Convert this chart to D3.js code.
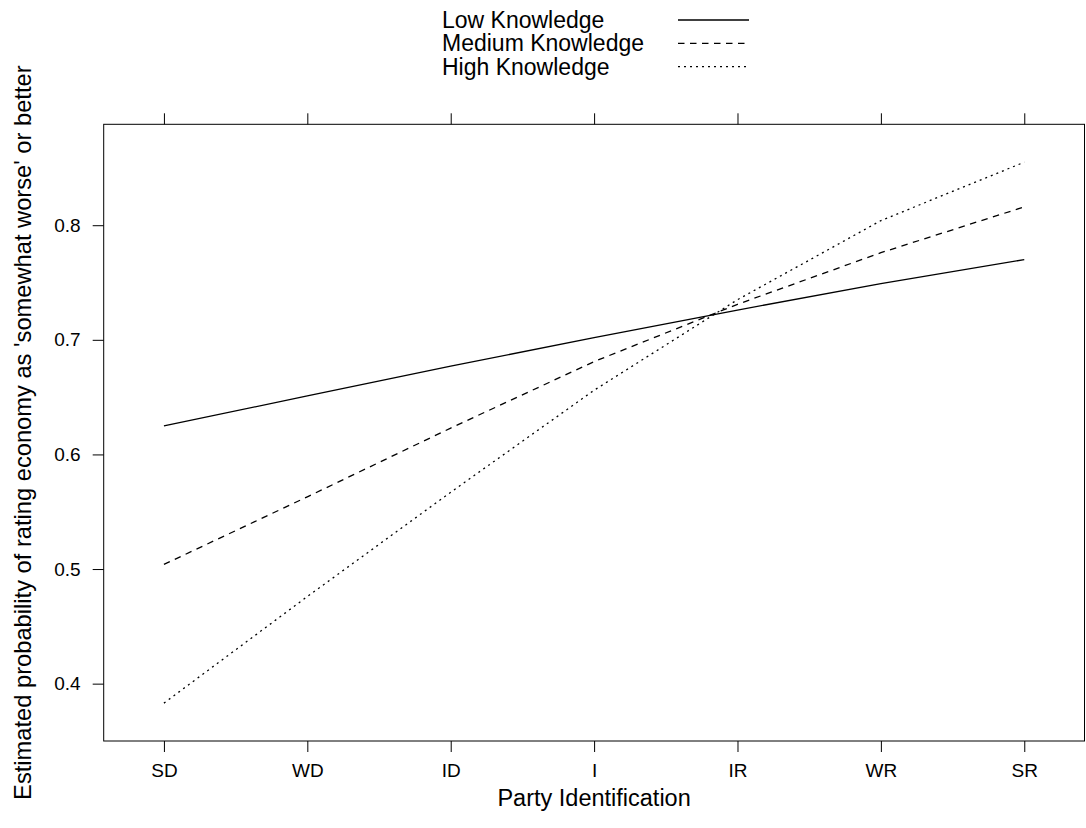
<!DOCTYPE html>
<html>
<head>
<meta charset="utf-8">
<script src="https://cdn.jsdelivr.net/npm/d3@7"></script>
<style>
  body { margin: 0; background: #fff; }
  text { font-family: "Liberation Sans", Arial, Helvetica, sans-serif; fill: #000; }
</style>
</head>
<body>
<div id="chart"></div>
<script>
const partyLabels = ['SD', 'WD', 'ID', 'I', 'IR', 'WR', 'SR'];
const lowKnowledge = [0.625, 0.651, 0.677, 0.702, 0.726, 0.749, 0.770];
const mediumKnowledge = [0.504, 0.563, 0.623, 0.681, 0.731, 0.776, 0.816];
const highKnowledge = [0.383, 0.476, 0.567, 0.656, 0.735, 0.804, 0.855];
const seriesNames = ['Low Knowledge', 'Medium Knowledge', 'High Knowledge'];
const yTicks = [0.4, 0.5, 0.6, 0.7, 0.8];

const width = 1086, height = 828;
const box = { left: 103.7, right: 1084.5, top: 124.3, bottom: 741 };

const svg = d3.select('#chart').append('svg')
    .attr('width', width)
    .attr('height', height);

const series = [
    { name: seriesNames[0], values: lowKnowledge, dash: null },
    { name: seriesNames[1], values: mediumKnowledge, dash: '6.5,5.5' },
    { name: seriesNames[2], values: highKnowledge, dash: '2,4' }
];

// lattice style padding: 7% of the data range on each side
const xIdx = d3.range(1, partyLabels.length + 1);
const xPad = 0.07 * (partyLabels.length - 1);
const x = d3.scaleLinear()
    .domain([1 - xPad, partyLabels.length + xPad])
    .range([box.left, box.right]);

const all = lowKnowledge.concat(mediumKnowledge, highKnowledge);
const [yMin, yMax] = d3.extent(all);
const yPad = 0.07 * (yMax - yMin);
const y = d3.scaleLinear()
    .domain([yMin - yPad, yMax + yPad])
    .range([box.bottom, box.top]);

// axes
const bottomAxis = d3.axisBottom(x).tickValues(xIdx).tickSize(11).tickPadding(12)
    .tickFormat(i => partyLabels[i - 1]);
const gB = svg.append('g').attr('transform', `translate(0,${box.bottom})`).call(bottomAxis);

const topAxis = d3.axisTop(x).tickValues(xIdx).tickSize(11).tickFormat('');
const gT = svg.append('g').attr('transform', `translate(0,${box.top})`).call(topAxis);

const leftAxis = d3.axisLeft(y).tickValues(yTicks).tickSize(11).tickPadding(12)
    .tickFormat(d3.format('.1f'));
const gL = svg.append('g').attr('transform', `translate(${box.left},0)`).call(leftAxis);

[gB, gT, gL].forEach(g => {
    g.select('.domain').remove();
    g.selectAll('line').attr('stroke', '#000').attr('stroke-width', 1);
});
gB.selectAll('text').style('font-size', '19px').attr('dy', '0.71em');
gL.selectAll('text').style('font-size', '19px');

svg.append('rect')
    .attr('x', box.left).attr('y', box.top)
    .attr('width', box.right - box.left)
    .attr('height', box.bottom - box.top)
    .attr('fill', 'none')
    .attr('stroke', '#000')
    .attr('stroke-width', 1);

// lines
const line = d3.line()
    .x((d, i) => x(i + 1))
    .y(d => y(d));

svg.selectAll('.series')
    .data(series)
    .enter().append('path')
    .attr('class', 'series')
    .attr('d', d => line(d.values))
    .attr('fill', 'none')
    .attr('stroke', '#000')
    .attr('stroke-width', 1.3)
    .attr('stroke-dasharray', d => d.dash);

// legend
const key = svg.append('g');
series.forEach((s, i) => {
    const cy = 20 + i * 23.3;
    key.append('text')
        .attr('x', 442).attr('y', cy + 8)
        .style('font-size', '23px')
        .text(s.name);
    key.append('line')
        .attr('x1', 678).attr('x2', 749)
        .attr('y1', cy).attr('y2', cy)
        .attr('stroke', '#000')
        .attr('stroke-width', 1.3)
        .attr('stroke-dasharray', s.dash);
});

// axis titles
svg.append('text')
    .attr('x', (box.left + box.right) / 2)
    .attr('y', 806)
    .attr('text-anchor', 'middle')
    .style('font-size', '23.5px')
    .text('Party Identification');

svg.append('text')
    .attr('transform', `translate(31,${(box.top + box.bottom) / 2}) rotate(-90)`)
    .attr('text-anchor', 'middle')
    .style('font-size', '23.7px')
    .text("Estimated probability of rating economy as 'somewhat worse' or better");
</script>
</body>
</html>
